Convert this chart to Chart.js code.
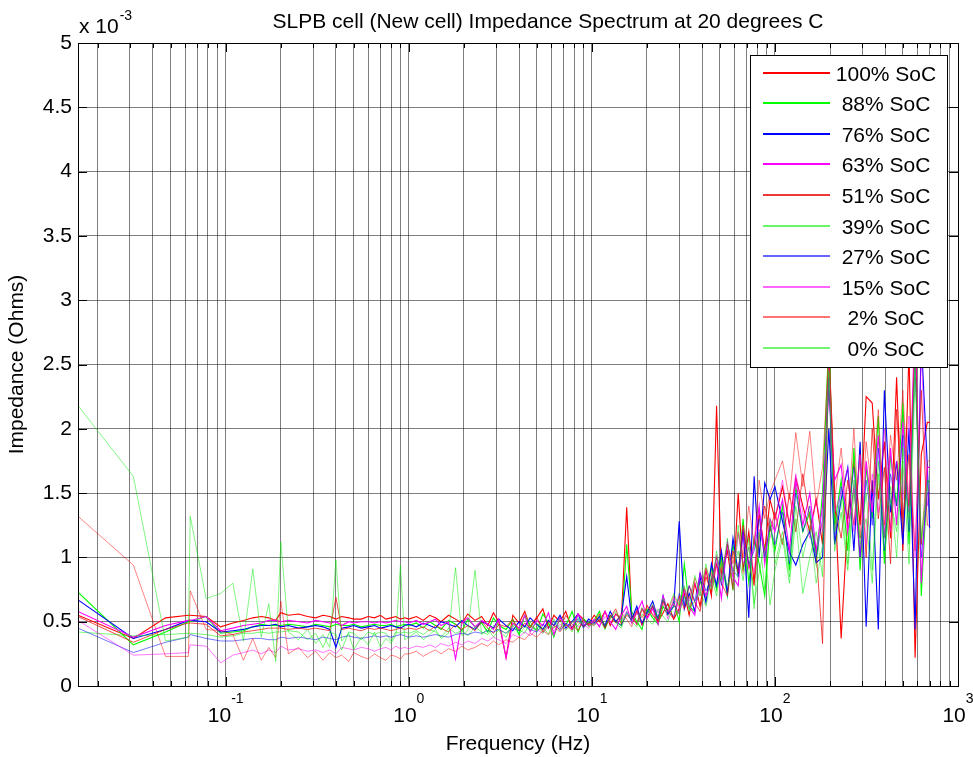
<!DOCTYPE html>
<html>
<head>
<meta charset="utf-8">
<script src="https://cdn.jsdelivr.net/npm/chart.js@4.4.1/dist/chart.umd.min.js"></script>
<style>
  html, body { margin: 0; padding: 0; background: #fff; }
  canvas { display: block; }
</style>
</head>
<body>
<canvas id="grafico" width="973" height="757"></canvas>
<script>
// frequencias (Hz)
const freq = [
  0.0156, 0.0313, 0.0469, 0.0625, 0.064, 0.0781, 0.0938, 0.1094, 0.125, 0.1406, 0.1563, 0.1719, 0.1875,
  0.2, 0.22, 0.25, 0.28, 0.31, 0.34, 0.37, 0.4, 0.43, 0.47, 0.5, 0.55, 0.6, 0.65, 0.7, 0.75, 0.8, 0.85, 0.9, 0.95,
  1.0, 1.1, 1.2, 1.3, 1.4, 1.5, 1.65, 1.8, 1.95, 2.1, 2.3, 2.5, 2.7, 2.9, 3.1, 3.4, 3.7, 4.0, 4.3, 4.6, 5.0, 5.4, 5.8, 6.2, 6.7, 7.2, 7.8, 8.4, 9.0, 9.6,
  10.3, 11, 11.8, 12.6, 13.5, 14.5, 15.5, 16.5, 17.6, 18.8, 20, 21.5, 23, 24.5, 26, 28, 30, 32, 34, 36.5, 39, 42, 45, 48, 51, 55, 59, 63, 67, 72, 77, 82, 88, 94,
  100, 110, 120, 130, 142, 155, 168, 182, 197, 212, 230, 250, 270, 292, 315, 340, 367, 396, 428, 462, 500, 540, 583, 630, 680, 700
]

// impedancia em x 10^-3 Ohms
const soc100 = [
  0.55, 0.37, 0.53, 0.55, 0.55, 0.54, 0.46, 0.49, 0.51, 0.53, 0.54, 0.53, 0.51,
  0.57, 0.55, 0.56, 0.54, 0.53, 0.55, 0.54, 0.52, 0.54, 0.53, 0.52, 0.52, 0.54, 0.53, 0.55, 0.52, 0.53, 0.54, 0.52, 0.53,
  0.52, 0.54, 0.51, 0.55, 0.53, 0.50, 0.55, 0.52, 0.49, 0.56, 0.51, 0.54, 0.47, 0.57, 0.50, 0.22, 0.55, 0.49, 0.58, 0.46, 0.53, 0.60, 0.45, 0.55, 0.50, 0.58, 0.44, 0.56, 0.52, 0.48,
  0.55, 0.50, 0.58, 0.47, 0.56, 0.52, 1.39, 0.55, 0.48, 0.60, 0.53, 0.62, 0.50, 0.57, 0.64, 0.52, 0.60, 0.72, 0.55, 0.80, 0.62, 0.90, 0.70, 2.18, 0.85, 1.05, 0.75, 1.50, 0.90, 1.20, 0.80, 1.35, 1.05, 1.45,
  1.30, 1.55, 1.25, 1.62, 1.40, 1.20, 1.45, 1.10, 2.65, 1.50, 0.37, 1.30, 1.75, 1.25, 2.25, 2.20, 1.45, 1.90, 1.15, 2.40, 1.05, 2.60, 0.22, 1.80, 2.05, 2.05
]
const soc88 = [
  0.73, 0.32, 0.42, 0.50, 0.50, 0.54, 0.41, 0.42, 0.43, 0.46, 0.48, 0.47, 0.47,
  0.47, 0.48, 0.47, 0.46, 0.48, 0.47, 0.46, 0.48, 0.47, 0.47, 0.48, 0.46, 0.47, 0.48, 0.47, 0.47, 0.48, 0.46, 0.47, 0.48,
  0.47, 0.49, 0.45, 0.50, 0.47, 0.44, 0.51, 0.48, 0.43, 0.52, 0.46, 0.49, 0.42, 0.53, 0.47, 0.44, 0.52, 0.40, 0.55, 0.47, 0.43, 0.56, 0.49, 0.38, 0.54, 0.47, 0.58, 0.42, 0.52, 0.49,
  0.51, 0.58, 0.45, 0.55, 0.50, 0.47, 1.10, 0.58, 0.50, 0.44, 0.60, 0.53, 0.48, 0.62, 0.55, 0.66, 0.50, 0.95, 0.62, 0.58, 0.82, 0.68, 0.92, 0.75, 1.00, 0.70, 1.10, 0.85, 1.30, 0.80, 1.15, 0.95, 0.70, 1.25,
  1.05, 1.40, 0.90, 1.55, 1.20, 1.35, 0.95, 1.50, 2.70, 1.25, 1.60, 1.05, 1.85, 0.90, 1.70, 1.30, 2.10, 0.95, 1.80, 1.40, 2.20, 1.10, 2.80, 0.70, 1.60, 1.58
]
const soc76 = [
  0.67, 0.37, 0.44, 0.51, 0.51, 0.50, 0.42, 0.43, 0.44, 0.46, 0.47, 0.47, 0.48,
  0.46, 0.47, 0.45, 0.46, 0.47, 0.46, 0.44, 0.30, 0.45, 0.46, 0.47, 0.45, 0.46, 0.47, 0.45, 0.46, 0.47, 0.46, 0.45, 0.47,
  0.48, 0.46, 0.49, 0.47, 0.45, 0.50, 0.48, 0.46, 0.51, 0.47, 0.44, 0.50, 0.48, 0.45, 0.52, 0.47, 0.43, 0.50, 0.46, 0.53, 0.48, 0.44, 0.51, 0.47, 0.55, 0.45, 0.50, 0.56, 0.46, 0.52,
  0.49, 0.54, 0.47, 0.58, 0.50, 0.55, 0.85, 0.52, 0.62, 0.48, 0.57, 0.66, 0.52, 0.70, 0.56, 0.62, 1.28, 0.60, 0.72, 0.58, 0.85, 0.65, 0.95, 0.78, 1.05, 0.72, 1.15, 0.88, 1.22, 0.53, 1.63, 1.00, 1.58, 1.45,
  1.55, 1.28, 1.04, 0.94, 1.10, 1.20, 0.96, 1.00, 2.00, 1.10, 1.45, 1.70, 1.05, 1.90, 0.46, 1.60, 0.44, 2.30, 1.35, 1.75, 1.10, 2.00, 0.44, 2.70, 1.71, 1.23
]
const soc63 = [
  0.58, 0.38, 0.47, 0.51, 0.51, 0.54, 0.43, 0.45, 0.47, 0.48, 0.49, 0.51, 0.51,
  0.50, 0.51, 0.50, 0.49, 0.51, 0.50, 0.49, 0.50, 0.47, 0.50, 0.49, 0.50, 0.50, 0.49, 0.50, 0.49, 0.50, 0.51, 0.50, 0.50,
  0.49, 0.51, 0.48, 0.50, 0.52, 0.47, 0.50, 0.21, 0.49, 0.53, 0.46, 0.51, 0.48, 0.44, 0.52, 0.22, 0.49, 0.45, 0.55, 0.42, 0.51, 0.47, 0.57, 0.40, 0.53, 0.48, 0.44, 0.56, 0.50, 0.47,
  0.52, 0.46, 0.58, 0.50, 0.44, 0.55, 0.62, 0.49, 0.57, 0.66, 0.52, 0.60, 0.48, 0.70, 0.58, 0.64, 0.56, 0.75, 0.62, 0.55, 0.88, 0.70, 0.80, 0.95, 0.68, 1.12, 0.85, 0.78, 1.20, 0.92, 1.10, 1.40, 0.95, 1.30,
  1.20, 1.45, 1.05, 1.60, 1.25, 1.50, 1.05, 1.40, 2.30, 1.60, 1.72, 1.20, 1.55, 1.00, 1.75, 1.35, 1.95, 1.15, 1.85, 1.25, 2.05, 1.35, 2.90, 0.80, 1.70, 1.70
]
const soc51 = [
  0.54, 0.34, 0.44, 0.49, 0.49, 0.48, 0.39, 0.40, 0.42, 0.43, 0.44, 0.45, 0.45,
  0.45, 0.44, 0.45, 0.44, 0.45, 0.44, 0.43, 0.69, 0.44, 0.45, 0.44, 0.43, 0.45, 0.44, 0.45, 0.44, 0.43, 0.44, 0.45, 0.44,
  0.45, 0.44, 0.46, 0.43, 0.47, 0.45, 0.42, 0.48, 0.44, 0.47, 0.43, 0.50, 0.45, 0.41, 0.48, 0.46, 0.52, 0.43, 0.49, 0.45, 0.54, 0.42, 0.50, 0.47, 0.44, 0.55, 0.48, 0.43, 0.52, 0.47,
  0.50, 0.56, 0.45, 0.53, 0.60, 0.48, 0.55, 0.52, 0.58, 0.47, 0.63, 0.55, 0.50, 0.66, 0.58, 0.52, 0.70, 0.60, 0.78, 0.65, 0.58, 0.85, 0.72, 0.95, 0.80, 0.70, 1.05, 0.88, 1.25, 0.95, 0.78, 1.15, 1.40, 1.20,
  1.35, 1.10, 1.50, 1.20, 1.65, 1.30, 1.05, 0.33, 2.60, 1.40, 1.15, 1.60, 1.25, 1.80, 1.00, 2.00, 1.30, 1.70, 0.95, 2.15, 1.30, 1.80, 1.05, 2.30, 1.25, 1.25
]
const soc39 = [
  0.42, 0.39, 0.40, 0.41, 0.41, 0.40, 0.38, 0.39, 0.41, 0.41, 0.42, 0.41, 0.42,
  0.42, 0.43, 0.42, 0.36, 0.41, 0.30, 0.42, 0.40, 0.28, 0.42, 0.41, 0.36, 0.42, 0.40, 0.42, 0.41, 0.35, 0.42, 0.41, 0.42,
  0.41, 0.43, 0.40, 0.44, 0.42, 0.38, 0.45, 0.41, 0.43, 0.39, 0.46, 0.42, 0.40, 0.47, 0.43, 0.38, 0.48, 0.44, 0.41, 0.50, 0.43, 0.46, 0.40, 0.52, 0.45, 0.48, 0.42, 0.53, 0.46, 0.49,
  0.47, 0.52, 0.44, 0.55, 0.49, 0.45, 0.58, 0.50, 0.46, 0.56, 0.52, 0.48, 0.60, 0.54, 0.50, 0.63, 0.56, 0.70, 0.60, 0.66, 0.74, 0.62, 0.85, 0.70, 0.95, 0.78, 0.90, 1.05, 0.82, 1.15, 0.64, 0.88, 1.10, 0.63,
  0.90, 1.15, 0.80, 1.30, 0.72, 1.00, 1.20, 0.85, 2.50, 1.05, 1.35, 0.90, 1.50, 1.15, 1.30, 0.80, 1.65, 1.00, 1.45, 1.20, 1.75, 0.95, 2.40, 1.10, 1.55, 1.50
]
const soc27 = [
  0.45, 0.26, 0.34, 0.38, 0.40, 0.37, 0.35, 0.35, 0.36, 0.37, 0.37, 0.36, 0.36,
  0.38, 0.37, 0.38, 0.37, 0.36, 0.38, 0.37, 0.36, 0.38, 0.39, 0.38, 0.37, 0.38, 0.39, 0.38, 0.39, 0.38, 0.39, 0.40, 0.39,
  0.38, 0.39, 0.38, 0.39, 0.40, 0.39, 0.38, 0.40, 0.41, 0.40, 0.42, 0.41, 0.43, 0.42, 0.44, 0.41, 0.45, 0.43, 0.47, 0.44, 0.42, 0.48, 0.45, 0.50, 0.43, 0.49, 0.46, 0.52, 0.45, 0.50,
  0.48, 0.53, 0.46, 0.55, 0.50, 0.47, 0.57, 0.51, 0.60, 0.49, 0.56, 0.62, 0.52, 0.67, 0.58, 0.54, 0.72, 0.63, 0.78, 0.66, 0.88, 0.74, 0.82, 1.00, 0.78, 1.10, 0.90, 0.85, 1.20, 0.95, 1.05, 1.30, 1.00, 1.25,
  1.10, 1.35, 0.95, 1.50, 1.20, 1.40, 1.00, 1.30, 2.40, 1.15, 1.55, 1.30, 1.70, 1.00, 1.60, 1.25, 1.85, 1.05, 1.65, 1.40, 1.95, 1.20, 2.55, 1.00, 1.50, 1.50
]
const soc15 = [
  0.51, 0.24, 0.25, 0.26, 0.32, 0.31, 0.18, 0.24, 0.26, 0.28, 0.25, 0.28, 0.26,
  0.31, 0.28, 0.29, 0.27, 0.28, 0.26, 0.28, 0.25, 0.30, 0.29, 0.28, 0.30, 0.29, 0.27, 0.29, 0.30, 0.28, 0.31, 0.29, 0.30,
  0.29, 0.31, 0.30, 0.32, 0.30, 0.33, 0.31, 0.34, 0.32, 0.35, 0.33, 0.37, 0.35, 0.38, 0.36, 0.33, 0.40, 0.38, 0.42, 0.39, 0.44, 0.41, 0.46, 0.43, 0.48, 0.44, 0.50, 0.46, 0.48, 0.45,
  0.50, 0.47, 0.54, 0.49, 0.56, 0.51, 0.58, 0.53, 0.48, 0.60, 0.55, 0.63, 0.57, 0.65, 0.52, 0.68, 0.60, 0.74, 0.66, 0.80, 0.70, 0.90, 0.76, 1.02, 0.85, 1.10, 0.80, 1.18, 0.95, 1.08, 0.88, 1.22, 1.05, 1.15,
  1.30, 1.60, 1.25, 1.65, 1.35, 1.15, 1.45, 1.20, 2.55, 1.35, 1.50, 1.70, 1.20, 1.80, 1.10, 1.65, 1.35, 2.00, 1.20, 1.75, 1.45, 2.10, 1.00, 2.60, 1.40, 1.55
]
const soc2 = [
  1.32, 0.94, 0.23, 0.23, 0.74, 0.44, 0.43, 0.40, 0.20, 0.37, 0.20, 0.30, 0.22,
  0.66, 0.25, 0.30, 0.22, 0.27, 0.20, 0.26, 0.22, 0.24, 0.19, 0.26, 0.23, 0.21, 0.25, 0.22, 0.20, 0.24, 0.23, 0.21, 0.25,
  0.25, 0.27, 0.23, 0.26, 0.28, 0.25, 0.29, 0.27, 0.31, 0.28, 0.30, 0.33, 0.31, 0.35, 0.32, 0.36, 0.34, 0.38, 0.36, 0.41, 0.38, 0.43, 0.40, 0.46, 0.42, 0.48, 0.44, 0.50, 0.46, 0.49,
  0.47, 0.52, 0.45, 0.55, 0.49, 0.57, 0.52, 0.46, 0.59, 0.53, 0.62, 0.56, 0.50, 0.66, 0.58, 0.70, 0.62, 0.76, 0.68, 0.84, 0.74, 0.92, 0.80, 1.00, 0.88, 1.10, 0.95, 1.20, 1.00, 1.40, 1.10, 1.60, 1.30, 1.50,
  1.60, 1.75, 1.45, 1.97, 1.55, 1.98, 1.40, 1.70, 2.60, 1.45, 1.85, 1.30, 2.00, 1.15, 1.90, 1.50, 2.15, 1.25, 1.95, 1.60, 2.30, 1.40, 2.70, 1.10, 1.75, 1.75
]
const soc0 = [
  2.18, 1.63, 0.35, 0.38, 1.32, 0.68, 0.72, 0.80, 0.35, 0.91, 0.38, 0.64, 0.19,
  1.12, 0.42, 0.36, 0.44, 0.33, 0.40, 0.30, 0.98, 0.35, 0.41, 0.28, 0.38, 0.32, 0.42, 0.30, 0.37, 0.33, 0.40, 0.94, 0.36,
  0.38, 0.42, 0.36, 0.40, 0.44, 0.37, 0.41, 0.92, 0.39, 0.43, 0.90, 0.40, 0.45, 0.38, 0.44, 0.41, 0.47, 0.40, 0.46, 0.43, 0.49, 0.41, 0.48, 0.45, 0.51, 0.43, 0.50, 0.47, 0.53, 0.46,
  0.49, 0.55, 0.47, 0.52, 0.58, 0.50, 0.56, 0.54, 0.49, 0.61, 0.55, 0.64, 0.52, 0.68, 0.59, 0.72, 0.63, 0.78, 0.58, 0.86, 0.70, 0.95, 0.75, 1.05, 0.82, 1.15, 0.74, 1.25, 0.90, 1.08, 0.60, 1.20, 0.75, 1.30,
  0.95, 1.20, 0.85, 1.40, 1.00, 1.25, 0.80, 1.10, 2.45, 1.20, 1.45, 0.95, 1.60, 1.10, 1.50, 0.90, 1.75, 1.15, 1.55, 1.00, 1.85, 1.30, 2.50, 1.15, 1.60, 1.60
]

const nomes = ['100% SoC', '88% SoC', '76% SoC', '63% SoC', '51% SoC', '39% SoC', '27% SoC', '15% SoC', '2% SoC', '0% SoC']
const series = [soc100, soc88, soc76, soc63, soc51, soc39, soc27, soc15, soc2, soc0]
const cores = ['#ff0000', '#00ff00', '#0000ff', '#ff00ff', 'rgba(235,20,20,0.85)', 'rgba(0,240,0,0.6)',
  'rgba(0,0,255,0.6)', 'rgba(255,0,255,0.6)', 'rgba(255,0,0,0.55)', 'rgba(0,235,0,0.55)']

const yTicks = [0, 0.5, 1, 1.5, 2, 2.5, 3, 3.5, 4, 4.5, 5]
const decadas = [-2, -1, 0, 1, 2, 3]

const fonte = '"Liberation Sans", Arial, sans-serif'
const corGrade = 'rgba(0,0,0,0.5)'

// ticks do eixo x (maiores e menores), igual ao matlab
let xTicks = []
decadas.forEach((d) => {
  for (let m = 1; m <= 9; m++) {
    const v = m * Math.pow(10, d)
    if (v >= 0.0156 && v <= 1000) xTicks.push({ value: v, major: m === 1 })
  }
})

const datasets = series.map((s, i) => ({
  label: nomes[i],
  data: freq.map((f, j) => ({ x: f, y: s[j] })),
  borderColor: cores[i],
  backgroundColor: cores[i],
  borderWidth: i < 4 ? 1.1 : 0.9,
  pointRadius: 0,
  tension: 0,
  order: 10 - i
}))

const extras = {
  id: 'extras',
  afterDraw(chart) {
    const c = chart.ctx
    const a = chart.chartArea
    const x = chart.scales.x
    const y = chart.scales.y
    c.save()

    // ticks para dentro
    c.strokeStyle = '#000'
    c.lineWidth = 1
    c.beginPath()
    xTicks.forEach((t) => {
      const px = Math.round(x.getPixelForValue(t.value)) + 0.5
      const len = t.major ? 9 : 5
      c.moveTo(px, a.bottom); c.lineTo(px, a.bottom - len)
      c.moveTo(px, a.top); c.lineTo(px, a.top + len)
    })
    yTicks.forEach((v) => {
      const py = Math.round(y.getPixelForValue(v)) + 0.5
      c.moveTo(a.left, py); c.lineTo(a.left + 9, py)
      c.moveTo(a.right, py); c.lineTo(a.right - 9, py)
    })
    c.stroke()

    // caixa
    c.strokeRect(Math.round(a.left) + 0.5, Math.round(a.top) + 0.5, Math.round(a.right - a.left), Math.round(a.bottom - a.top))

    // rotulos 10^n
    c.fillStyle = '#000'
    c.textBaseline = 'alphabetic'
    c.textAlign = 'left'
    xTicks.filter((t) => t.major).forEach((t) => {
      const exp = String(Math.round(Math.log10(t.value)))
      c.font = '21px ' + fonte
      const w1 = c.measureText('10').width
      c.font = '14px ' + fonte
      const w2 = c.measureText(exp).width
      const px = x.getPixelForValue(t.value)
      const x0 = px - (w1 + w2) / 2
      c.font = '21px ' + fonte
      c.fillText('10', x0, 722)
      c.font = '14px ' + fonte
      c.fillText(exp, x0 + w1, 703)
    })

    // x 10^-3
    c.font = '21px ' + fonte
    c.fillText('x 10', 79, 33)
    const wx = c.measureText('x 10').width
    c.font = '14px ' + fonte
    c.fillText('-3', 79 + wx + 1, 20)

    // titulo
    c.font = '21px ' + fonte
    c.textAlign = 'center'
    c.fillText('SLPB cell (New cell) Impedance Spectrum at 20 degrees C', 548, 28)

    // legenda
    const lx = 750, ly = 55, lw = 197, lh = 312
    c.fillStyle = '#fff'
    c.fillRect(lx, ly, lw, lh)
    c.strokeStyle = '#000'
    c.lineWidth = 1
    c.strokeRect(lx + 0.5, ly + 0.5, lw, lh)
    nomes.forEach((nome, i) => {
      const yy = Math.round(72.7 + i * 30.56)
      c.strokeStyle = cores[i]
      c.lineWidth = 2
      c.beginPath()
      c.moveTo(763, yy)
      c.lineTo(830, yy)
      c.stroke()
      c.fillStyle = '#000'
      c.font = '21px ' + fonte
      c.textAlign = 'center'
      c.fillText(nome, 886, yy + 8)
    })
    c.restore()
  }
}

new Chart(document.getElementById('grafico'), {
  type: 'line',
  data: { datasets },
  options: {
    responsive: false,
    animation: false,
    layout: { padding: { top: 43, right: 15, left: 0, bottom: 0 } },
    plugins: {
      legend: { display: false },
      title: { display: false },
      tooltip: { enabled: false }
    },
    scales: {
      x: {
        type: 'logarithmic',
        min: 0.0156,
        max: 1000,
        afterBuildTicks: (scale) => { scale.ticks = xTicks.map((t) => ({ value: t.value, major: t.major })) },
        afterFit: (scale) => { scale.height = 71 },
        ticks: { callback: () => '', autoSkip: false, maxRotation: 0 },
        grid: { color: corGrade, lineWidth: 1, drawTicks: false },
        border: { display: false },
        title: {
          display: true,
          text: 'Frequency (Hz)',
          color: '#000',
          font: { family: fonte, size: 21 },
          padding: { top: 3, bottom: 0 }
        }
      },
      y: {
        min: 0,
        max: 5,
        afterBuildTicks: (scale) => { scale.ticks = yTicks.map((v) => ({ value: v })) },
        afterFit: (scale) => { scale.width = 78 },
        ticks: { color: '#000', font: { family: fonte, size: 21 }, padding: 6, callback: (v) => String(v) },
        grid: { color: corGrade, lineWidth: 1, drawTicks: false },
        border: { display: false },
        title: {
          display: true,
          text: 'Impedance (Ohms)',
          color: '#000',
          font: { family: fonte, size: 21 },
          padding: { top: 5, bottom: 0 }
        }
      }
    }
  },
  plugins: [extras]
})
</script>
</body>
</html>
